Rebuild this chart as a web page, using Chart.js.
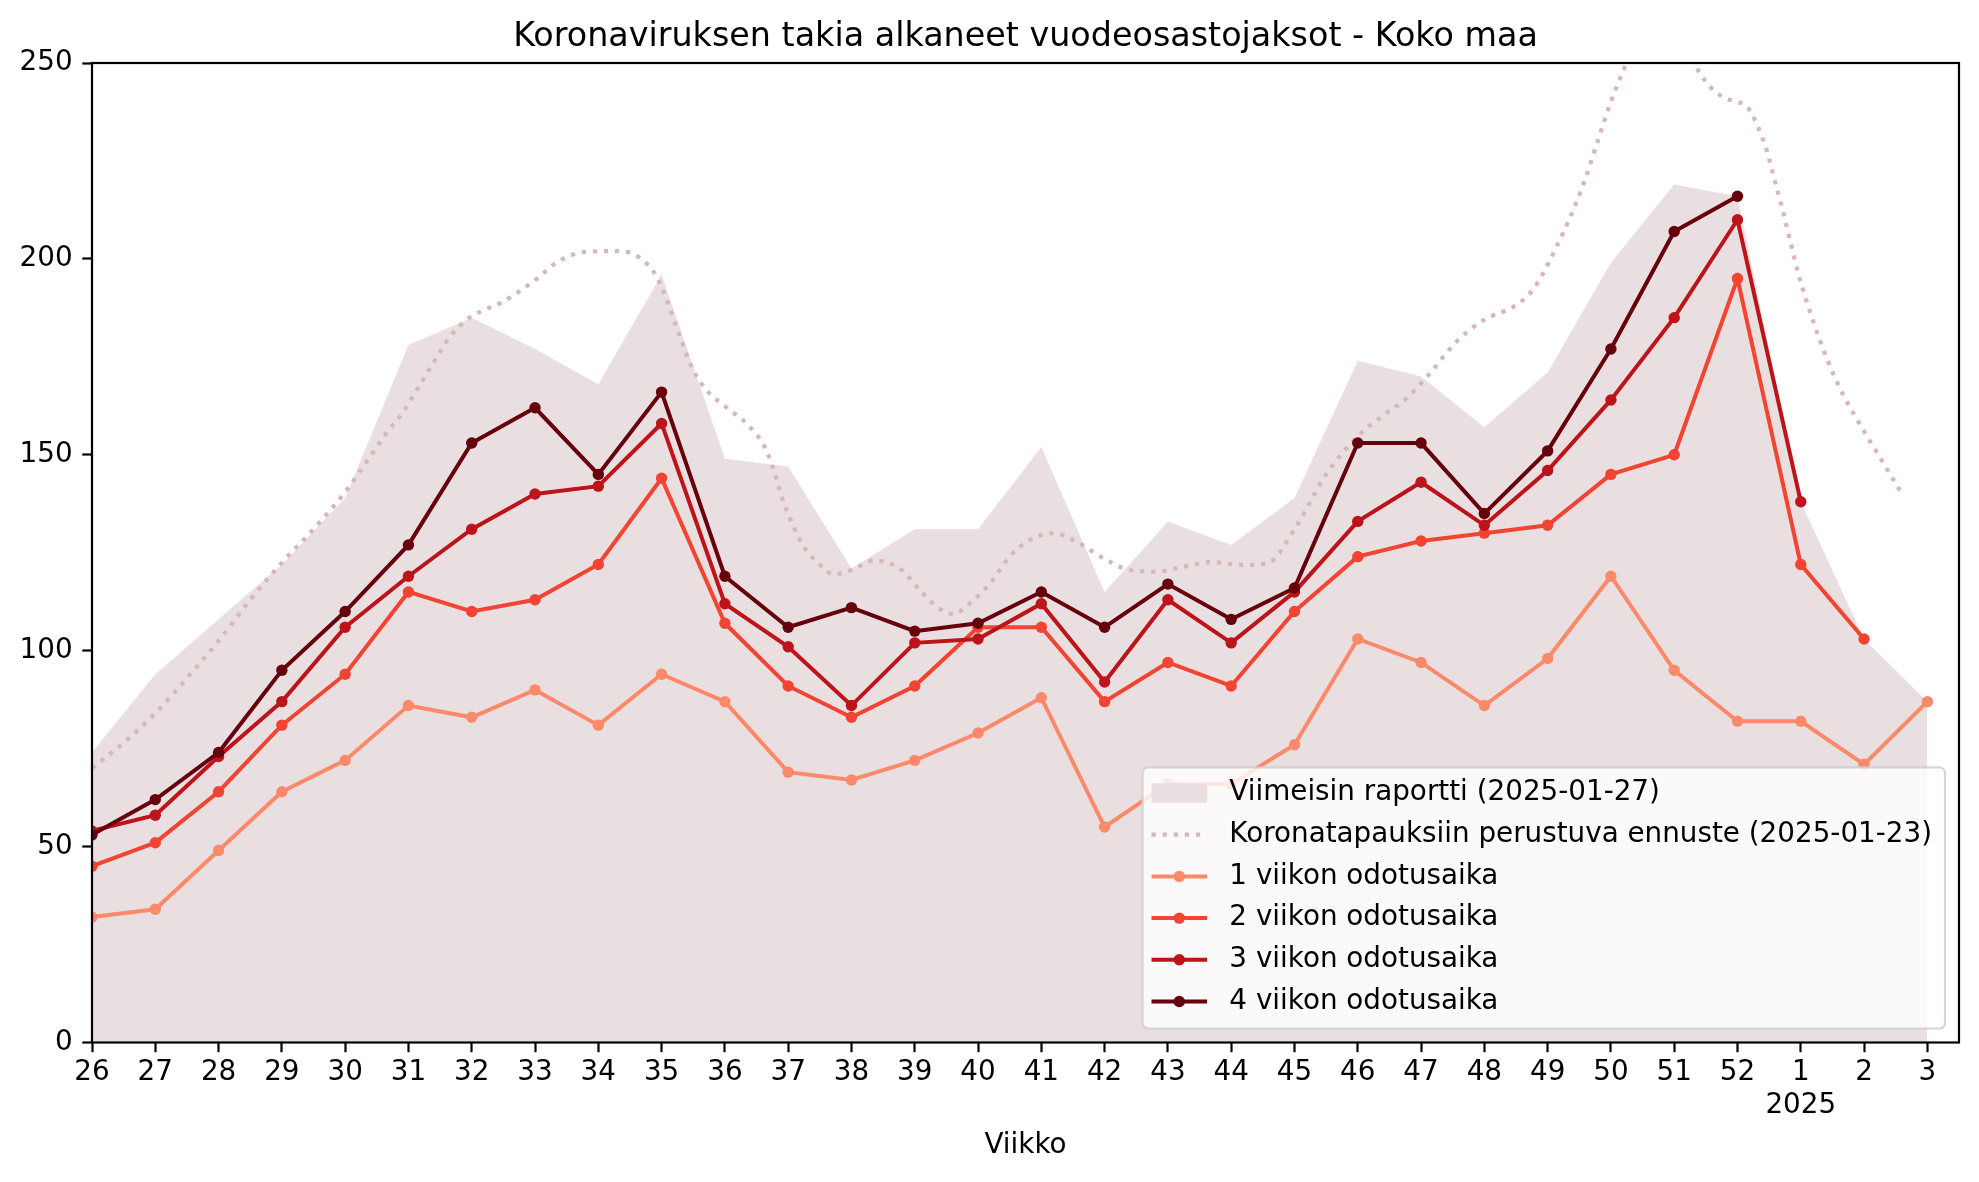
<!DOCTYPE html>
<html>
<head>
<meta charset="utf-8">
<script src="https://cdn.jsdelivr.net/npm/chart.js@4.4.1/dist/chart.umd.min.js"></script>
<style>
  html, body { margin: 0; padding: 0; background: #fff; }
  canvas { display: block; }
</style>
</head>
<body>
<canvas id="myChart" width="1979" height="1182"></canvas>
<script>
// viikot x-akselilla (vko 26/2024 ... vko 3/2025), indeksi 0 = vko 26
const weekLabels = ['26', '27', '28', '29', '30', '31', '32', '33', '34', '35', '36', '37', '38', '39',
    '40', '41', '42', '43', '44', '45', '46', '47', '48', '49', '50', '51', '52', ['1', '2025'], '2', '3'];
const yTicks = [0, 50, 100, 150, 200, 250];

// viimeisin raportti (täytetty alue)
const latestReport = [74, 94, 108, 122, 139, 178, 185, 177, 168, 196, 149, 147, 121, 131, 131,
    152, 115, 133, 127, 139, 174, 170, 157, 171, 199, 219, 216, 138, 103, 87];

// odotusajat
const wait1 = [32, 34, 49, 64, 72, 86, 83, 90, 81, 94, 87, 69, 67, 72, 79, 88, 55, 66, 66, 76,
    103, 97, 86, 98, 119, 95, 82, 82, 71, 87];
const wait2 = [45, 51, 64, 81, 94, 115, 110, 113, 122, 144, 107, 91, 83, 91, 106, 106, 87, 97, 91,
    110, 124, 128, 130, 132, 145, 150, 195, 122, 103];
const wait3 = [54, 58, 73, 87, 106, 119, 131, 140, 142, 158, 112, 101, 86, 102, 103, 112, 92, 113,
    102, 115, 133, 143, 132, 146, 164, 185, 210, 138];
const wait4 = [53, 62, 74, 95, 110, 127, 153, 162, 145, 166, 119, 106, 111, 105, 107, 115, 106, 117,
    108, 116, 153, 153, 135, 151, 177, 207, 216];

// ennuste: x = viikkoindeksi (murtoluku), y = arvo
const forecastX = [0, 0.5, 1, 1.5, 2, 2.5, 3, 3.5, 4, 4.35, 4.65, 4.92, 5.13, 5.39, 5.65, 5.92, 6.2,
    6.45, 6.97, 7.4, 7.82, 8.34, 8.66, 8.92, 9.08, 9.29, 9.5, 9.71, 10.03, 10.34, 10.66, 10.95, 11.23,
    11.5, 11.72, 12, 12.36, 12.57, 12.82, 13.08, 13.35, 13.61, 13.87, 14.19, 14.5, 14.82, 15.19, 15.56,
    15.98, 16.4, 16.82, 17.24, 17.67, 18.19, 18.57, 19, 19.5, 19.99, 20.4, 20.77, 21.14, 21.56, 21.99,
    22.46, 22.72, 22.93, 23.14, 23.36, 23.57, 23.78, 23.99, 24.2, 24.45, 24.8, 25.1, 25.33, 25.52,
    25.78, 25.99, 26.15, 26.31, 26.46, 26.6, 26.7, 26.83, 26.96, 27.12, 27.3, 27.51, 27.7, 28, 28.3, 28.6];
const forecastY = [70, 76.5, 84, 93, 102.5, 113, 122.5, 131, 140.5, 148.5, 155.5, 161, 166.5, 173.4,
    180, 184.5, 187, 188.7, 194.2, 199.7, 201.8, 202, 200.2, 195.5, 189.5, 180.1, 171.6, 166.5, 162,
    158, 151, 137, 127, 122, 119.5, 120.6, 123, 122.5, 120.2, 115.5, 111.2, 109.4, 112.1, 117.2, 124,
    128.3, 130, 127.8, 123.6, 120.6, 120.2, 121.4, 122.6, 121.9, 122.3, 131, 145, 154.6, 160, 164.4,
    170.8, 178.9, 184.4, 187.8, 191.2, 196.3, 203.1, 210.8, 219.3, 229.5, 239.7, 248.2, 257, 262, 257,
    249.5, 244.8, 241.2, 240.1, 238.9, 234.2, 227.8, 219.3, 213.3, 204.8, 196.3, 187.8, 179.3, 170.8,
    164.4, 156, 148, 140];

const seriesNames = ['1 viikon odotusaika', '2 viikon odotusaika', '3 viikon odotusaika', '4 viikon odotusaika'];
const seriesColors = ['#fc8a6a', '#f14432', '#bc141a', '#67000d'];
const waitSeries = [wait1, wait2, wait3, wait4];

const FONT = 'DejaVu Sans';
const FS = 27.8;
Chart.defaults.font.family = FONT;
Chart.defaults.font.size = FS;
Chart.defaults.color = '#000';

function toPoints(values) {
    return values.map((v, i) => ({ x: i, y: v }));
}

let datasets = [
    {
        label: 'Viimeisin raportti (2025-01-27)',
        data: toPoints(latestReport),
        fill: 'origin',
        backgroundColor: '#eadfe0',
        borderWidth: 0,
        pointRadius: 0,
        order: 6,
    },
    {
        label: 'Koronatapauksiin perustuva ennuste (2025-01-23)',
        data: forecastX.map((x, i) => ({ x: x, y: forecastY[i] })),
        borderColor: '#d5b7bc',
        borderWidth: 4.2,
        borderDash: [4.2, 6.9],
        borderCapStyle: 'butt',
        cubicInterpolationMode: 'monotone',
        pointRadius: 0,
        fill: false,
        order: 5,
    },
];
for (let i = 0; i < waitSeries.length; i++) {
    datasets.push({
        label: seriesNames[i],
        data: toPoints(waitSeries[i]),
        borderColor: seriesColors[i],
        backgroundColor: seriesColors[i],
        pointBackgroundColor: seriesColors[i],
        borderWidth: 4,
        pointRadius: 5.7,
        pointBorderWidth: 0,
        fill: false,
        order: 4 - i,
    });
}
datasets.forEach(d => { d.clip = 0; });

// kehys, otsikko ja selite matplotlib-tyyliin
const decorPlugin = {
    id: 'decor',
    afterDatasetsDraw(chart) {
        const ctx = chart.ctx;
        const a = chart.chartArea;
        ctx.save();
        ctx.strokeStyle = '#000';
        ctx.lineWidth = 2.2;
        ctx.strokeRect(a.left, a.top, a.right - a.left, a.bottom - a.top);

        // otsikko
        ctx.fillStyle = '#000';
        ctx.font = (FS * 1.2) + 'px "' + FONT + '"';
        ctx.textAlign = 'center';
        ctx.textBaseline = 'alphabetic';
        ctx.fillText('Koronaviruksen takia alkaneet vuodeosastojaksot - Koko maa', (a.left + a.right) / 2, a.top - 16.7);

        // selite
        const ds = chart.data.datasets;
        ctx.font = FS + 'px "' + FONT + '"';
        let textW = 0;
        ds.forEach(d => { textW = Math.max(textW, ctx.measureText(d.label).width); });
        const handleLen = FS * 2;
        const rowH = FS * 1.5;
        const boxW = 9 + handleLen + FS * 0.8 + textW + 13;
        const boxH = 25.6 + rowH * (ds.length - 1) + 27;
        const x0 = a.right - 14 - boxW;
        const y0 = a.bottom - 14 - boxH;
        ctx.beginPath();
        if (ctx.roundRect) ctx.roundRect(x0, y0, boxW, boxH, 5.6);
        else ctx.rect(x0, y0, boxW, boxH);
        ctx.fillStyle = 'rgba(255,255,255,0.8)';
        ctx.fill();
        ctx.strokeStyle = 'rgba(204,204,204,0.8)';
        ctx.lineWidth = 2.2;
        ctx.stroke();

        ds.forEach((d, i) => {
            const cy = y0 + 25.6 + i * rowH;
            const hx = x0 + 9;
            if (d.fill === 'origin') {
                ctx.fillStyle = d.backgroundColor;
                ctx.fillRect(hx, cy - 9.7, handleLen, 19.5);
            } else {
                ctx.strokeStyle = d.borderColor;
                ctx.lineWidth = d.borderWidth;
                ctx.lineCap = 'butt';
                ctx.setLineDash(d.borderDash || []);
                ctx.beginPath();
                ctx.moveTo(hx, cy);
                ctx.lineTo(hx + handleLen, cy);
                ctx.stroke();
                ctx.setLineDash([]);
                if (d.pointRadius > 0) {
                    ctx.fillStyle = d.pointBackgroundColor;
                    ctx.beginPath();
                    ctx.arc(hx + handleLen / 2, cy, d.pointRadius, 0, Math.PI * 2);
                    ctx.fill();
                }
            }
            ctx.fillStyle = '#000';
            ctx.textAlign = 'left';
            ctx.textBaseline = 'middle';
            ctx.fillText(d.label, hx + handleLen + FS * 0.8, cy);
        });
        ctx.restore();
    }
};

const myChart = document.getElementById('myChart').getContext('2d');
const chart = new Chart(myChart, {
    type: 'line',
    data: { datasets: datasets },
    options: {
        responsive: false,
        animation: false,
        devicePixelRatio: 1,
        events: [],
        layout: { padding: { top: 63, right: 20, left: 0, bottom: 0 } },
        scales: {
            x: {
                type: 'linear',
                min: 0,
                max: 29.5,
                afterBuildTicks: (scale) => {
                    scale.ticks = weekLabels.map((w, i) => ({ value: i }));
                },
                afterFit: (scale) => { scale.height = 139.5; },
                ticks: {
                    autoSkip: false,
                    maxRotation: 0,
                    minRotation: 0,
                    padding: 4,
                    font: { size: FS, lineHeight: 1.2 },
                    callback: (value, index) => weekLabels[index],
                },
                grid: {
                    drawOnChartArea: false,
                    drawTicks: true,
                    tickLength: 9.7,
                    tickWidth: 2.2,
                    tickColor: '#000',
                },
                border: { display: false },
                title: {
                    display: true,
                    text: 'Viikko',
                    font: { size: FS, lineHeight: 1.2 },
                    padding: { top: 0, bottom: 19.3 },
                },
            },
            y: {
                min: 0,
                max: 250,
                afterBuildTicks: (scale) => {
                    scale.ticks = yTicks.map(v => ({ value: v }));
                },
                afterFit: (scale) => { scale.width = 92; },
                ticks: {
                    padding: 9.7,
                    font: { size: FS },
                },
                grid: {
                    drawOnChartArea: false,
                    drawTicks: true,
                    tickLength: 9.7,
                    tickWidth: 2.2,
                    tickColor: '#000',
                },
                border: { display: false },
            },
        },
        plugins: {
            legend: { display: false },
            tooltip: { enabled: false },
            title: { display: false },
        },
    },
    plugins: [decorPlugin],
});
</script>
</body>
</html>
